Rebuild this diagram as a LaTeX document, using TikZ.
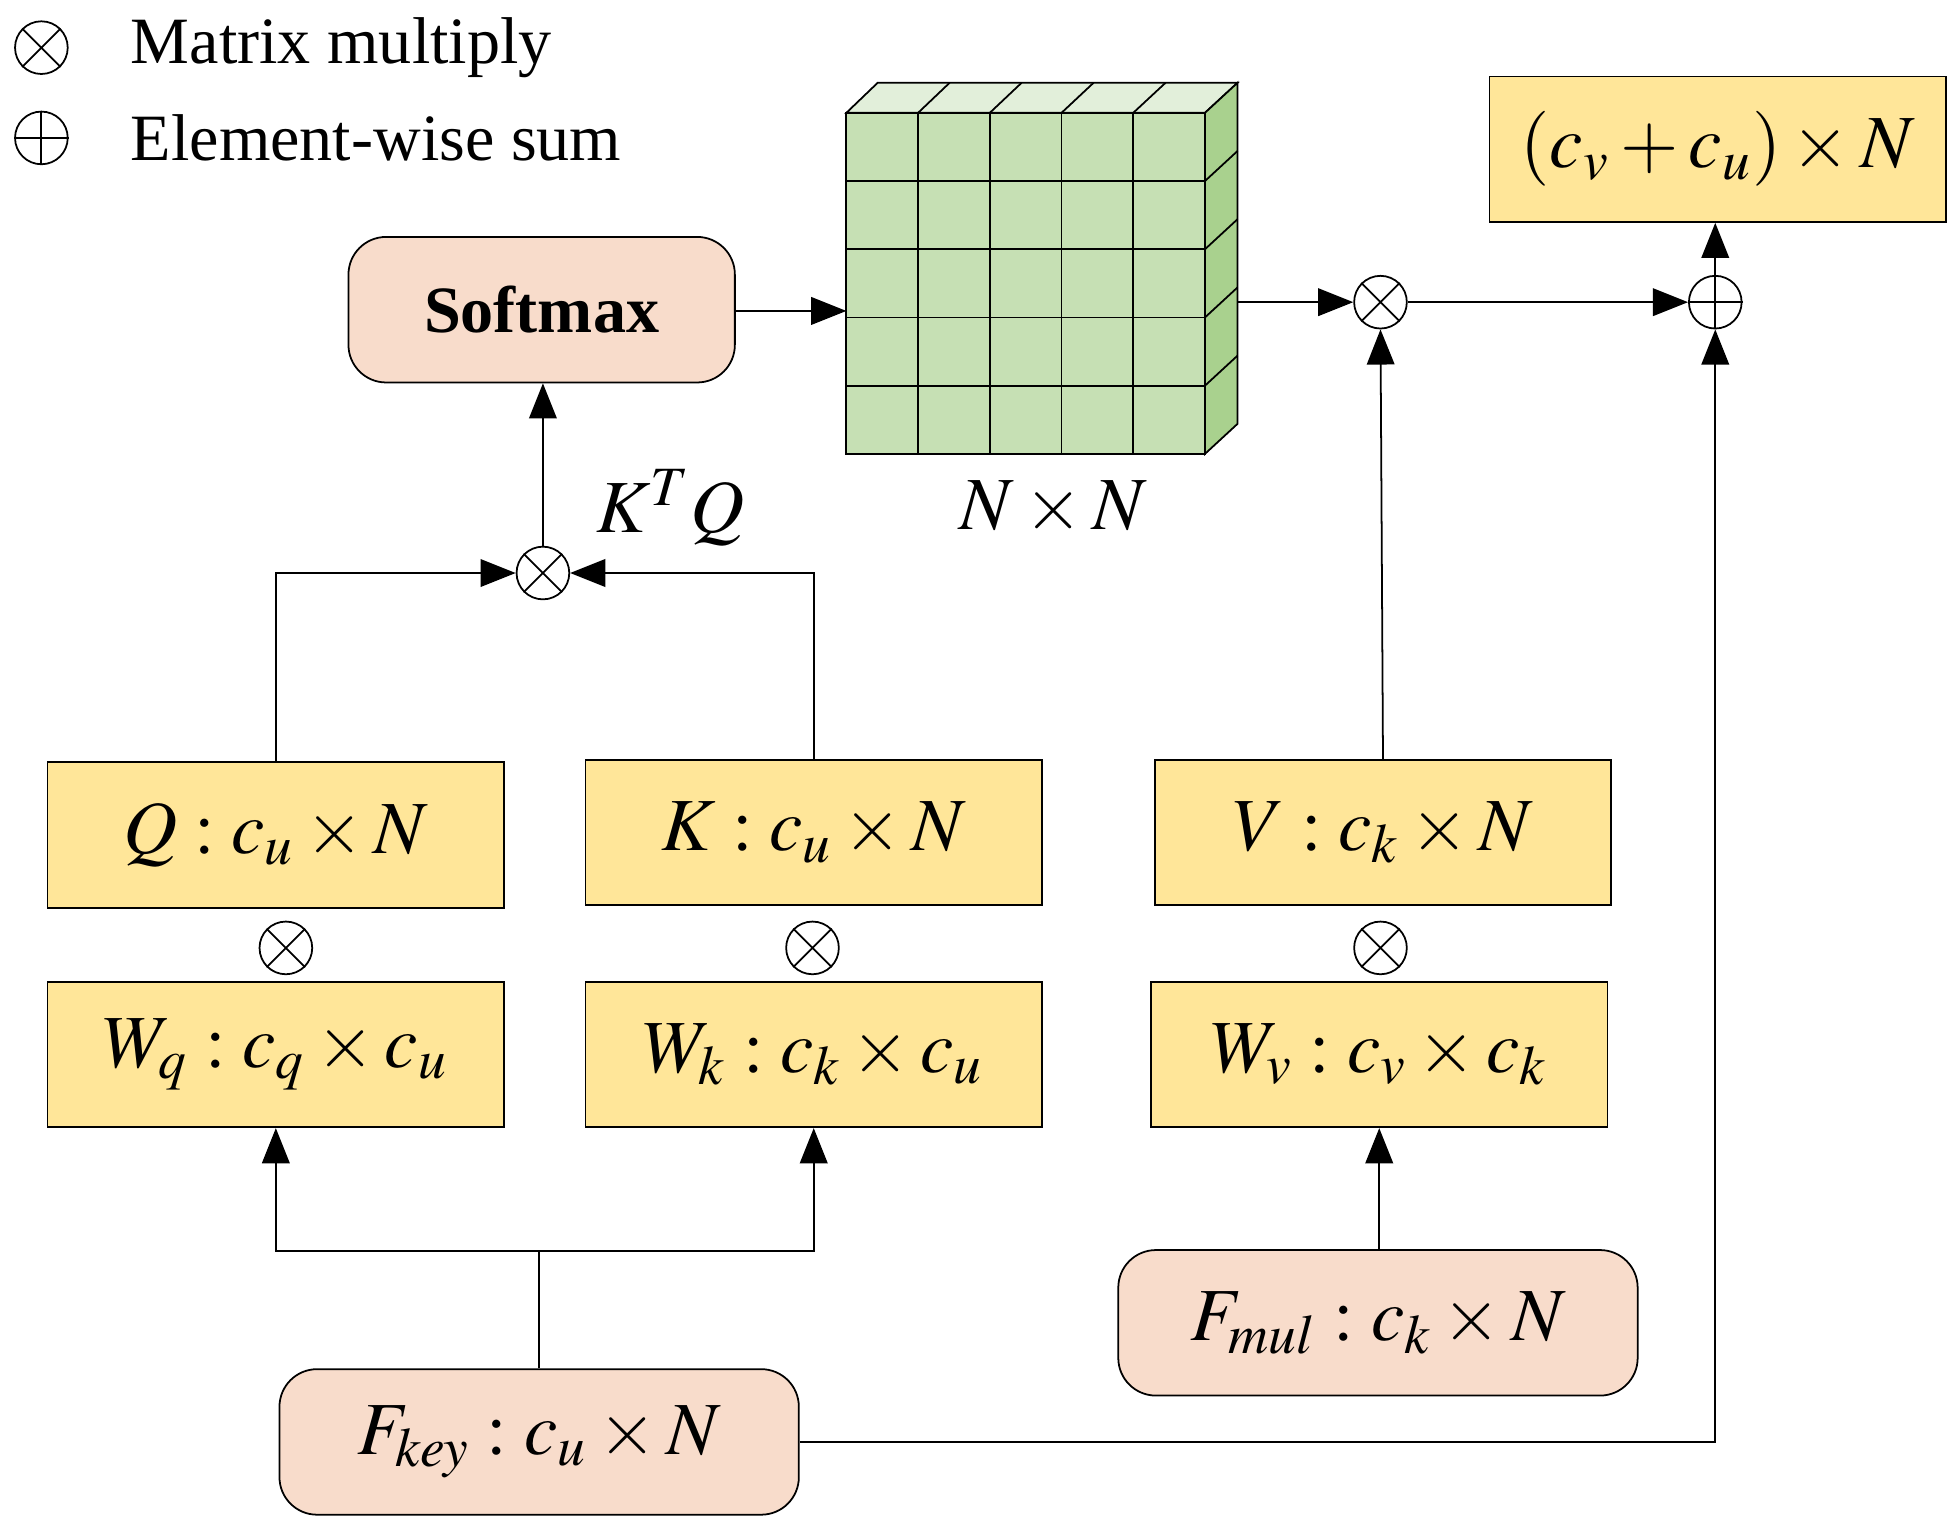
\documentclass[tikz,border=0pt]{standalone}
\usepackage{mathptmx}
\usepackage{fontspec}
\setmainfont{Liberation Serif}
\usetikzlibrary{arrows.meta}
\definecolor{yel}{HTML}{FFE699}
\definecolor{pea}{HTML}{F8DCCB}
\definecolor{gf}{HTML}{C6E0B4}
\definecolor{gt}{HTML}{E2EFDA}
\definecolor{gs}{HTML}{A9D18E}
\begin{document}
\begin{tikzpicture}[x=0.01cm,y=-0.01cm,
  box/.style={draw,fill=yel,minimum width=3.64cm,minimum height=1.16cm,inner sep=0pt,font=\fontsize{17}{20}\selectfont},
  rbox/.style={draw,fill=pea,rounded corners=0.3cm,minimum width=4.14cm,minimum height=1.16cm,inner sep=0pt,font=\fontsize{17}{20}\selectfont},
  op/.style={draw,circle,minimum size=0.42cm,inner sep=0pt},
  arr/.style={-{Triangle[length=0.28cm,width=0.22cm]}}]
\useasboundingbox (0,0) rectangle (1560,1221);
% legend
\node[op] (l1) at (33,38) {}; \draw (l1.north west)--(l1.south east) (l1.north east)--(l1.south west);
\node[op] (l2) at (33,110) {}; \draw (l2.north)--(l2.south) (l2.west)--(l2.east);
\node[anchor=west,font=\fontsize{15}{18}\selectfont] (t1) at (92,38) {Matrix multiply};
\node[anchor=west,font=\fontsize{15}{18}\selectfont] (t2) at (92,110) {Element-wise sum};
% softmax
\node[draw,fill=pea,rounded corners=0.3cm,minimum width=3.08cm,minimum height=1.16cm,font=\fontsize{15}{18}\selectfont\bfseries] (sm) at (432,247) {Softmax};
% grid
\fill[gt,draw=black] (675,90)--(700,66)--(987,66)--(961,90)--cycle;
\fill[gs,draw=black] (961,90)--(987,66)--(987,338)--(961,362)--cycle;
\fill[gf,draw=black] (675,90) rectangle (961,362);
\foreach \i in {1,...,4}{
  \draw (675+57.2*\i,90)--(675+57.2*\i,362);
  \draw (675,90+54.4*\i)--(961,90+54.4*\i);
  \draw (675+57.2*\i,90)--(700+57.4*\i,66);
  \draw (961,90+54.4*\i)--(987,66+54.4*\i);
}
\coordinate (gL) at (675,248); \coordinate (gR) at (987,241);
\node[font=\fontsize{17}{20}\selectfont] (nn) at (840,405) {$N\times N$};
% output
\node[box] (out) at (1370,119) {$\left(c_v+c_u\right)\times N$};
\node[op] (m1) at (1101,241) {}; \draw (m1.north west)--(m1.south east) (m1.north east)--(m1.south west);
\node[op] (s1) at (1368,241) {}; \draw (s1.north)--(s1.south) (s1.west)--(s1.east);
\draw[arr] (sm.east |- gL) -- (gL);
\draw[arr] (gR) -- (m1);
\draw[arr] (m1) -- (s1);
\draw[arr] (s1) -- (out.south -| s1);
% KTQ
\node[op] (m0) at (433,457) {}; \draw (m0.north west)--(m0.south east) (m0.north east)--(m0.south west);
\node[font=\fontsize{17}{20}\selectfont] (ktq) at (535,405) {$K^{T}Q$};
\draw[arr] (m0) -- (sm.south -| m0);
% boxes
\node[box] (Q) at (220,666) {$Q:c_u\times N$};
\node[box] (K) at (649,664) {$K:c_u\times N$};
\node[box] (V) at (1103,664) {$V:c_k\times N$};
\foreach \n/\x in {a/228,b/648,c/1101}{
  \node[op] (x\n) at (\x,756) {}; \draw (x\n.north west)--(x\n.south east) (x\n.north east)--(x\n.south west);}
\node[box] (Wq) at (220,841) {$W_q:c_q\times c_u$};
\node[box] (Wk) at (649,841) {$W_k:c_k\times c_u$};
\node[box] (Wv) at (1100,841) {$W_v:c_v\times c_k$};
\node[rbox] (Fk) at (430,1150) {$F_{key}:c_u\times N$};
\node[rbox] (Fm) at (1099,1055) {$F_{mul}:c_k\times N$};
% connectors
\draw[arr] (Q.north) |- (m0.west);
\draw[arr] (K.north) |- (m0.east);
\draw[arr] (V.north) -- (m1.south);
\coordinate (j) at (430,998);
\draw (Fk.north) -- (j);
\draw[arr] (j) -| (Wq.south);
\draw[arr] (j) -| (Wk.south);
\draw[arr] (Fm.north -| Wv) -- (Wv.south);
\draw[arr] (Fk.east) -| (s1.south);
\end{tikzpicture}
\end{document}
